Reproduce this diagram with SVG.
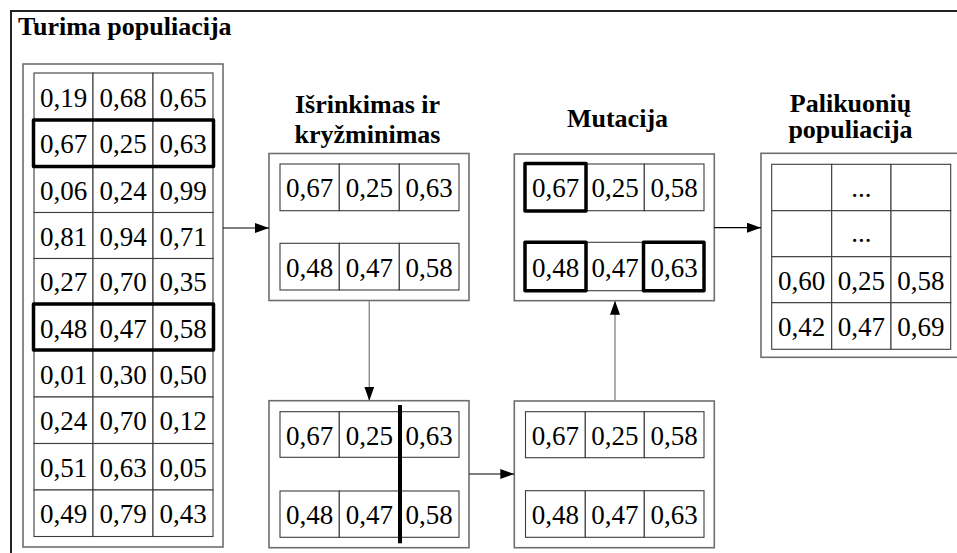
<svg xmlns="http://www.w3.org/2000/svg" width="957" height="553" viewBox="0 0 957 553">
<style>
.bg{fill:#fff}
.frame{fill:none;stroke:#222;stroke-width:2}
.box{fill:#fff;stroke:#6e6e6e;stroke-width:1.6}
.cell{fill:#fff;stroke:#3c3c3c;stroke-width:1.1}
.sel{fill:none;stroke:#000;stroke-width:3.5;stroke-linejoin:round}
.cut{stroke:#000;stroke-width:4}
.t{font-family:'Liberation Serif','DejaVu Serif',serif;font-size:27px;fill:#000;text-anchor:middle}
.h{font-family:'Liberation Serif','DejaVu Serif',serif;font-size:26px;font-weight:bold;fill:#000;text-anchor:middle}
.ah{fill:none;stroke:#000;stroke-width:1.2}
.av{fill:none;stroke:#8c8c8c;stroke-width:1.4}
</style>
<defs>
<marker id="arr" markerUnits="userSpaceOnUse" markerWidth="14" markerHeight="10" refX="14" refY="5" orient="auto">
<path d="M0,0 L14,5 L0,10 z" fill="#000"/>
</marker>
</defs>
<rect class="bg" x="0" y="0" width="957" height="553"/>
<path class="frame" d="M11,553 L11,11 L957,11"/>
<text class="h" x="18" y="35" style="text-anchor:start" font-family="Liberation Serif, serif">Turima populiacija</text>

<g id="current-population" font-family="Liberation Serif, serif">
<rect class="box" x="23" y="64" width="200" height="483"/>
<g>
<rect class="cell" x="34" y="73" width="59" height="47"/><rect class="cell" x="93" y="73" width="60" height="47"/><rect class="cell" x="153" y="73" width="60" height="47"/>
<rect class="cell" x="34" y="120" width="59" height="46.5"/><rect class="cell" x="93" y="120" width="60" height="46.5"/><rect class="cell" x="153" y="120" width="60" height="46.5"/>
<rect class="cell" x="34" y="166.5" width="59" height="46"/><rect class="cell" x="93" y="166.5" width="60" height="46"/><rect class="cell" x="153" y="166.5" width="60" height="46"/>
<rect class="cell" x="34" y="212.5" width="59" height="46"/><rect class="cell" x="93" y="212.5" width="60" height="46"/><rect class="cell" x="153" y="212.5" width="60" height="46"/>
<rect class="cell" x="34" y="258.5" width="59" height="45.5"/><rect class="cell" x="93" y="258.5" width="60" height="45.5"/><rect class="cell" x="153" y="258.5" width="60" height="45.5"/>
<rect class="cell" x="34" y="304" width="59" height="46"/><rect class="cell" x="93" y="304" width="60" height="46"/><rect class="cell" x="153" y="304" width="60" height="46"/>
<rect class="cell" x="34" y="350" width="59" height="47"/><rect class="cell" x="93" y="350" width="60" height="47"/><rect class="cell" x="153" y="350" width="60" height="47"/>
<rect class="cell" x="34" y="397" width="59" height="46.5"/><rect class="cell" x="93" y="397" width="60" height="46.5"/><rect class="cell" x="153" y="397" width="60" height="46.5"/>
<rect class="cell" x="34" y="443.5" width="59" height="46.5"/><rect class="cell" x="93" y="443.5" width="60" height="46.5"/><rect class="cell" x="153" y="443.5" width="60" height="46.5"/>
<rect class="cell" x="34" y="490" width="59" height="46.5"/><rect class="cell" x="93" y="490" width="60" height="46.5"/><rect class="cell" x="153" y="490" width="60" height="46.5"/>
</g>
<rect class="sel" x="33.5" y="120" width="180" height="46.5"/>
<rect class="sel" x="33.5" y="304" width="180" height="46"/>
<g>
<text class="t" x="63.5" y="106.5">0,19</text><text class="t" x="123" y="106.5">0,68</text><text class="t" x="183" y="106.5">0,65</text>
<text class="t" x="63.5" y="153.3">0,67</text><text class="t" x="123" y="153.3">0,25</text><text class="t" x="183" y="153.3">0,63</text>
<text class="t" x="63.5" y="199.5">0,06</text><text class="t" x="123" y="199.5">0,24</text><text class="t" x="183" y="199.5">0,99</text>
<text class="t" x="63.5" y="245.5">0,81</text><text class="t" x="123" y="245.5">0,94</text><text class="t" x="183" y="245.5">0,71</text>
<text class="t" x="63.5" y="291.3">0,27</text><text class="t" x="123" y="291.3">0,70</text><text class="t" x="183" y="291.3">0,35</text>
<text class="t" x="63.5" y="337.5">0,48</text><text class="t" x="123" y="337.5">0,47</text><text class="t" x="183" y="337.5">0,58</text>
<text class="t" x="63.5" y="383.5">0,01</text><text class="t" x="123" y="383.5">0,30</text><text class="t" x="183" y="383.5">0,50</text>
<text class="t" x="63.5" y="430.3">0,24</text><text class="t" x="123" y="430.3">0,70</text><text class="t" x="183" y="430.3">0,12</text>
<text class="t" x="63.5" y="476.8">0,51</text><text class="t" x="123" y="476.8">0,63</text><text class="t" x="183" y="476.8">0,05</text>
<text class="t" x="63.5" y="523.3">0,49</text><text class="t" x="123" y="523.3">0,79</text><text class="t" x="183" y="523.3">0,43</text>
</g>
</g>

<g id="selection-crossover">
<text class="h" x="367.5" y="113">Išrinkimas ir</text>
<text class="h" x="367.5" y="142.5">kryžminimas</text>
<rect class="box" x="269" y="153.5" width="200" height="147"/>
<rect class="cell" x="280" y="164" width="59.3" height="46.7"/><rect class="cell" x="339.3" y="164" width="60" height="46.7"/><rect class="cell" x="399.3" y="164" width="59.7" height="46.7"/>
<rect class="cell" x="280" y="243.3" width="59.3" height="46.7"/><rect class="cell" x="339.3" y="243.3" width="60" height="46.7"/><rect class="cell" x="399.3" y="243.3" width="59.7" height="46.7"/>
<text class="t" x="309.7" y="197.3">0,67</text><text class="t" x="369.3" y="197.3">0,25</text><text class="t" x="429.2" y="197.3">0,63</text>
<text class="t" x="309.7" y="276.7">0,48</text><text class="t" x="369.3" y="276.7">0,47</text><text class="t" x="429.2" y="276.7">0,58</text>
</g>

<g id="crossover-point">
<rect class="box" x="269" y="400.7" width="200" height="147"/>
<rect class="cell" x="280" y="411.7" width="59.3" height="45.6"/><rect class="cell" x="339.3" y="411.7" width="60" height="45.6"/><rect class="cell" x="399.3" y="411.7" width="59.7" height="45.6"/>
<rect class="cell" x="280" y="491" width="59.3" height="46.3"/><rect class="cell" x="339.3" y="491" width="60" height="46.3"/><rect class="cell" x="399.3" y="491" width="59.7" height="46.3"/>
<text class="t" x="309.7" y="444.5">0,67</text><text class="t" x="369.3" y="444.5">0,25</text><text class="t" x="429.2" y="444.5">0,63</text>
<text class="t" x="309.7" y="524">0,48</text><text class="t" x="369.3" y="524">0,47</text><text class="t" x="429.2" y="524">0,58</text>
<line class="cut" x1="400" y1="405" x2="400" y2="543.3"/>
</g>

<g id="crossover-result">
<rect class="box" x="514.3" y="401" width="200" height="146.7"/>
<rect class="cell" x="525.5" y="411.7" width="59.8" height="46"/><rect class="cell" x="585.3" y="411.7" width="59" height="46"/><rect class="cell" x="644.3" y="411.7" width="59.7" height="46"/>
<rect class="cell" x="525.5" y="490.7" width="59.8" height="46.6"/><rect class="cell" x="585.3" y="490.7" width="59" height="46.6"/><rect class="cell" x="644.3" y="490.7" width="59.7" height="46.6"/>
<text class="t" x="555.4" y="444.7">0,67</text><text class="t" x="614.8" y="444.7">0,25</text><text class="t" x="674.2" y="444.7">0,58</text>
<text class="t" x="555.4" y="524">0,48</text><text class="t" x="614.8" y="524">0,47</text><text class="t" x="674.2" y="524">0,63</text>
</g>

<g id="mutation">
<text class="h" x="617.5" y="126.7">Mutacija</text>
<rect class="box" x="514.3" y="154" width="200" height="146.7"/>
<rect class="cell" x="525" y="164" width="61" height="46.7"/><rect class="cell" x="586" y="164" width="58.3" height="46.7"/><rect class="cell" x="644.3" y="164" width="59.7" height="46.7"/>
<rect class="cell" x="525" y="242.3" width="61" height="48.4"/><rect class="cell" x="586" y="242.3" width="58.3" height="48.4"/><rect class="cell" x="644.3" y="242.3" width="59.7" height="48.4"/>
<rect class="sel" x="525" y="163.5" width="61" height="47.5"/>
<rect class="sel" x="525" y="242.3" width="61" height="48.4"/>
<rect class="sel" x="643.5" y="242.3" width="60.5" height="48.4"/>
<text class="t" x="555.5" y="197.3">0,67</text><text class="t" x="615.2" y="197.3">0,25</text><text class="t" x="674.2" y="197.3">0,58</text>
<text class="t" x="555.5" y="276.5">0,48</text><text class="t" x="615.2" y="276.5">0,47</text><text class="t" x="674.2" y="276.5">0,63</text>
</g>

<g id="offspring-population">
<text class="h" x="850.5" y="111.7">Palikuonių</text>
<text class="h" x="850.5" y="138.3">populiacija</text>
<rect class="box" x="761" y="153.3" width="205" height="204"/>
<rect class="cell" x="771.7" y="164.3" width="60" height="46.4"/><rect class="cell" x="831.7" y="164.3" width="59.3" height="46.4"/><rect class="cell" x="891" y="164.3" width="59.7" height="46.4"/>
<rect class="cell" x="771.7" y="210.7" width="60" height="46"/><rect class="cell" x="831.7" y="210.7" width="59.3" height="46"/><rect class="cell" x="891" y="210.7" width="59.7" height="46"/>
<rect class="cell" x="771.7" y="256.7" width="60" height="46"/><rect class="cell" x="831.7" y="256.7" width="59.3" height="46"/><rect class="cell" x="891" y="256.7" width="59.7" height="46"/>
<rect class="cell" x="771.7" y="302.7" width="60" height="46.6"/><rect class="cell" x="831.7" y="302.7" width="59.3" height="46.6"/><rect class="cell" x="891" y="302.7" width="59.7" height="46.6"/>
<text class="t" x="861.3" y="196.5">...</text>
<text class="t" x="861.3" y="242">...</text>
<text class="t" x="801.7" y="289.7">0,60</text><text class="t" x="861.3" y="289.7">0,25</text><text class="t" x="920.9" y="289.7">0,58</text>
<text class="t" x="801.7" y="336">0,42</text><text class="t" x="861.3" y="336">0,47</text><text class="t" x="920.9" y="336">0,69</text>
</g>

<g id="connectors">
<line class="ah" x1="223" y1="228" x2="269" y2="228" marker-end="url(#arr)"/>
<line class="av" x1="369.3" y1="300.7" x2="369.3" y2="400.7" marker-end="url(#arr)"/>
<line class="ah" x1="469.3" y1="474" x2="514.3" y2="474" marker-end="url(#arr)"/>
<line class="av" x1="615" y1="401" x2="615" y2="300.7" marker-end="url(#arr)"/>
<line class="ah" x1="714.3" y1="227.7" x2="761" y2="227.7" marker-end="url(#arr)"/>
</g>
</svg>
